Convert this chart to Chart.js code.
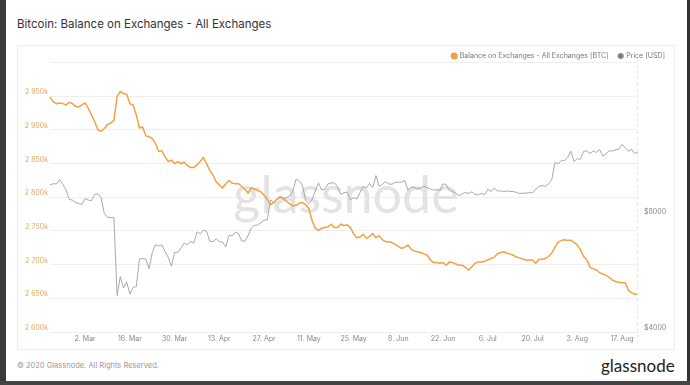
<!DOCTYPE html>
<html>
<head>
<meta charset="utf-8">
<script src="https://cdn.jsdelivr.net/npm/chart.js@4.4.0/dist/chart.umd.min.js"></script>
<style>
  body { margin:0; width:690px; height:385px; overflow:hidden; background:#fff; position:relative; font-family:Inter, "Open Sans", sans-serif; }
  .edgeL { position:absolute; left:0; top:0; width:6px; height:385px; background:#3a3a3a; }
  .edgeR { position:absolute; right:0; top:0; width:3px; height:385px; background:#333; }
  .edgeB { position:absolute; left:0; bottom:0; width:690px; height:4px; background:#444; }
  .title { position:absolute; left:17px; top:16px; font-size:11.5px; line-height:16px; color:#333; }
  .box { position:absolute; left:17px; top:45px; width:658px; height:305px; box-sizing:border-box; border:1px solid #ececec; }
  .foot { position:absolute; left:17px; top:361px; font-size:7.5px; line-height:10px; color:#999; }
  .logo { position:absolute; left:601px; top:356px; font-family:Lato, sans-serif; font-size:17px; line-height:20px; color:#222; }
  #c { position:absolute; left:0; top:0; }
</style>
</head>
<body>
<div class="edgeL"></div>
<div class="edgeR"></div>
<div class="edgeB"></div>
<div class="title">Bitcoin: Balance on Exchanges - All Exchanges</div>
<div class="box"></div>
<div class="foot">© 2020 Glassnode. All Rights Reserved.</div>
<div class="logo">glassnode</div>
<canvas id="c" width="690" height="385"></canvas>
<script>
// balance on exchanges, thousands of BTC, daily from 20 Feb 2020
var balance = [
  2949, 2942, 2939, 2940, 2939, 2937, 2941, 2939, 2935, 2934,
  2937, 2940, 2932, 2922, 2912, 2900, 2898, 2902, 2908, 2910,
  2914, 2950, 2957, 2954, 2953, 2939, 2937, 2922, 2903, 2904,
  2891, 2890, 2887, 2880, 2868, 2869, 2860, 2853, 2855, 2850,
  2853, 2850, 2852, 2847, 2844, 2844, 2848, 2853, 2859, 2850,
  2840, 2833, 2823, 2818, 2814, 2820, 2825, 2821, 2820, 2820,
  2816, 2812, 2806, 2814, 2812, 2810, 2808, 2803, 2797, 2789,
  2792, 2797, 2800, 2798, 2794, 2790, 2787, 2788, 2791, 2792,
  2789, 2783, 2766, 2754, 2751, 2754, 2755, 2756, 2760, 2755,
  2755, 2760, 2758, 2759, 2755, 2746, 2740, 2741, 2745, 2739,
  2742, 2746, 2740, 2743, 2737, 2734, 2734, 2733, 2730, 2727,
  2724, 2726, 2729, 2723, 2720, 2719, 2718, 2716, 2714, 2707,
  2703, 2703, 2702, 2703, 2699, 2704, 2703, 2701, 2699, 2699,
  2696, 2692, 2697, 2702, 2704, 2704, 2705, 2707, 2709, 2711,
  2716, 2718, 2719, 2717, 2716, 2714, 2711, 2710, 2708, 2707,
  2707, 2707, 2702, 2708, 2708, 2709, 2712, 2717, 2726, 2733,
  2736, 2737, 2736, 2736, 2733, 2729, 2722, 2712, 2707, 2696,
  2694, 2692, 2688, 2686, 2684, 2681, 2677, 2675, 2674, 2673,
  2673, 2662, 2658, 2656, 2656
];

// price in USD, same days
var price = [
  9608, 9686, 9663, 9924, 9650, 9341, 8820, 8784, 8672, 8599,
  8562, 8869, 8787, 8755, 9078, 9122, 8909, 8108, 7923, 7909,
  7911, 4970, 5563, 5200, 5392, 5014, 5225, 5238, 6191, 6198,
  6185, 5830, 6416, 6734, 6681, 6716, 6469, 6242, 5922, 6429,
  6438, 6607, 6793, 6733, 6868, 6791, 7271, 7176, 7334, 7302,
  6865, 6859, 6971, 6845, 6842, 6642, 7116, 7096, 7257, 7189,
  6881, 6880, 7117, 7429, 7550, 7570, 7679, 7795, 7807, 8801,
  8658, 8864, 8988, 8897, 8912, 9004, 9268, 9952, 9842, 9593,
  8756, 8601, 8804, 9270, 9733, 9328, 9377, 9670, 9727, 9729,
  9523, 9081, 9182, 9210, 8790, 8906, 8835, 9181, 9525, 9439,
  9700, 9461, 10167, 9529, 9656, 9800, 9665, 9653, 9759, 9772,
  9772, 9879, 9321, 9481, 9475, 9387, 9450, 9539, 9462, 9394,
  9313, 9361, 9289, 9681, 9624, 9297, 9249, 9162, 9013, 9116,
  9192, 9138, 9232, 9087, 9061, 9135, 9073, 9375, 9252, 9428,
  9277, 9278, 9240, 9277, 9243, 9243, 9192, 9132, 9151, 9159,
  9185, 9164, 9374, 9525, 9581, 9536, 9677, 9905, 10990, 10912,
  11100, 11111, 11323, 11759, 11053, 11246, 11205, 11747, 11779, 11601,
  11754, 11675, 11878, 11411, 11584, 11784, 11769, 11865, 11892, 12254,
  11991, 11758, 11879, 11592, 11681
];

var tickDates = ['2. Mar','16. Mar','30. Mar','13. Apr','27. Apr','11. May','25. May','8. Jun','22. Jun','6. Jul','20. Jul','3. Aug','17. Aug'];
var balanceTicks = [2600, 2650, 2700, 2750, 2800, 2850, 2900, 2950, 3000];
var priceTicks = [4000, 8000];

var months = ['Jan','Feb','Mar','Apr','May','Jun','Jul','Aug','Sep','Oct','Nov','Dec'];
var dates = [];
for (var i = 0; i < balance.length; i++) {
  var dt = new Date(Date.UTC(2020, 1, 20 + i));
  dates.push(dt.getUTCDate() + '. ' + months[dt.getUTCMonth()]);
}

var orange = '#f3a23e';
var grey = '#a9a9a9';

// big faint name behind the lines + dashed marker on the last day
var extras = {
  id: 'extras',
  afterLayout: function(chart) {
    // pull legend a bit closer to the plot
    chart.legend.top += 7;
    chart.legend.bottom += 7;
  },
  beforeDatasetsDraw: function(chart) {
    var a = chart.chartArea, ctx = chart.ctx;
    ctx.save();
    ctx.font = '52px Lato';
    ctx.fillStyle = '#e3e3e3';
    ctx.textAlign = 'center';
    ctx.textBaseline = 'middle';
    ctx.fillText('glassnode', (a.left + a.right) / 2 + 2, 196);
    ctx.restore();
  },
  afterDatasetsDraw: function(chart) {
    var a = chart.chartArea, ctx = chart.ctx;
    var x = chart.scales.x.getPixelForValue(dates.length - 1);
    ctx.save();
    ctx.strokeStyle = '#f4e4c6';
    ctx.lineWidth = 1;
    ctx.setLineDash([3, 3]);
    ctx.beginPath();
    ctx.moveTo(Math.round(x) - 0.5, a.top - 4);
    ctx.lineTo(Math.round(x) - 0.5, a.bottom + 14);
    ctx.stroke();
    ctx.restore();
  }
};

function fmtK(v) {
  if (v >= 3000) return '';
  return Math.floor(v / 1000) + ' ' + String(v % 1000).padStart(3, '0') + 'k';
}

new Chart(document.getElementById('c'), {
  type: 'line',
  data: {
    labels: dates,
    datasets: [{
      label: 'Balance on Exchanges - All Exchanges [BTC]',
      data: balance,
      yAxisID: 'y',
      borderColor: orange,
      backgroundColor: orange,
      borderWidth: 1.5,
      pointRadius: 0,
      tension: 0
    }, {
      label: 'Price [USD]',
      data: price,
      yAxisID: 'y1',
      borderColor: grey,
      backgroundColor: '#777',
      borderWidth: 1,
      pointRadius: 0,
      tension: 0
    }]
  },
  options: {
    responsive: false,
    animation: false,
    devicePixelRatio: 1,
    layout: { padding: { left: 17, right: 15, top: 35.5, bottom: 35 } },
    plugins: {
      legend: {
        align: 'end',
        labels: {
          usePointStyle: true,
          pointStyle: 'circle',
          boxWidth: 4,
          boxHeight: 4,
          padding: 10,
          color: '#777',
          font: { family: 'Inter', size: 7 }
        }
      },
      tooltip: { enabled: false }
    },
    scales: {
      x: {
        grid: { display: false, drawTicks: false },
        border: { display: false },
        afterFit: function(s) { s.height = 18; },
        ticks: {
          autoSkip: false,
          maxRotation: 0,
          minRotation: 0,
          padding: 3,
          color: '#888',
          font: { family: 'Inter', size: 7 },
          callback: function(v) {
            var l = this.getLabelForValue(v);
            return tickDates.indexOf(l) >= 0 ? l : '';
          }
        }
      },
      y: {
        position: 'left',
        min: 2600,
        max: 3000,
        afterBuildTicks: function(s) { s.ticks = balanceTicks.map(function(v) { return { value: v }; }); },
        afterFit: function(s) { s.width = 33; },
        grid: { color: '#efefef', drawTicks: false },
        border: { display: false },
        ticks: {
          padding: 2,
          labelOffset: -4,
          color: '#e8a65c',
          font: { family: 'Inter', size: 7 },
          callback: fmtK
        }
      },
      y1: {
        type: 'logarithmic',
        position: 'right',
        min: 4000,
        max: 19950,
        afterBuildTicks: function(s) { s.ticks = priceTicks.map(function(v) { return { value: v }; }); },
        afterFit: function(s) { s.width = 37; },
        grid: { display: false, drawTicks: false },
        border: { display: false },
        ticks: {
          padding: 6,
          labelOffset: -4,
          color: '#888',
          font: { family: 'Inter', size: 7 },
          callback: function(v) { return '$' + v; }
        }
      }
    }
  },
  plugins: [extras]
});
</script>
</body>
</html>
